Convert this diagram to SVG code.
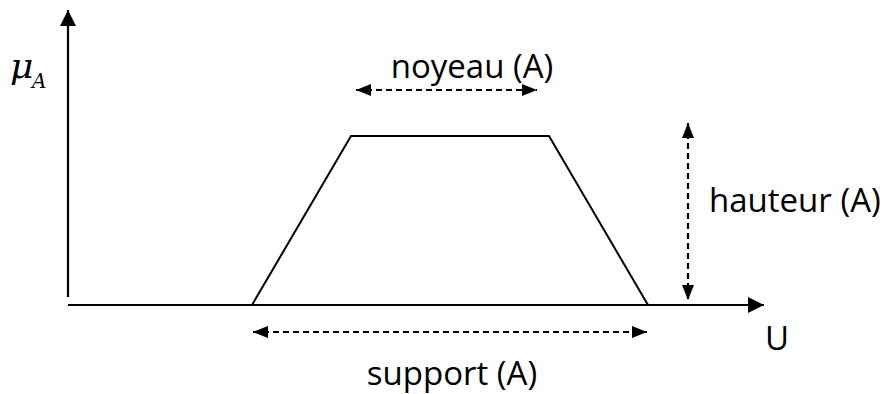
<svg xmlns="http://www.w3.org/2000/svg" width="885" height="394" viewBox="0 0 885 394">
  <style>
    .axis { stroke: #000; stroke-width: 2.2; fill: none; }
    .shape { stroke: #000; stroke-width: 2; fill: none; }
    .dim { stroke: #000; stroke-width: 2.2; fill: none; stroke-dasharray: 6 4; }
    .lbl { font-family: "Open Sans", "Liberation Sans", sans-serif; font-size: 33px; fill: #000; }
    .math { font-family: "DejaVu Serif", "Liberation Serif", serif; font-style: italic; fill: #000; }
  </style>
  <defs>
    <marker id="axtip" viewBox="0 0 10 10" refX="10" refY="5" markerWidth="16" markerHeight="16" markerUnits="userSpaceOnUse" orient="auto">
      <path d="M0,0 L10,5 L0,10 Z" fill="#000"/>
    </marker>
    <marker id="dimtip" viewBox="0 0 10 10" refX="10" refY="5" markerWidth="15" markerHeight="12" markerUnits="userSpaceOnUse" orient="auto-start-reverse" preserveAspectRatio="none">
      <path d="M0,0 L10,5 L0,10 Z" fill="#000"/>
    </marker>
  </defs>

  <!-- axes -->
  <g id="axes">
    <line class="axis" x1="68" y1="297" x2="68" y2="10" marker-end="url(#axtip)"/>
    <line class="axis" x1="68" y1="305" x2="764" y2="305" marker-end="url(#axtip)"/>
    <text class="math" x="10" y="78" font-size="36">μ</text>
    <text class="math" x="32" y="88" font-size="20">A</text>
    <text class="lbl" x="765" y="350">U</text>
  </g>

  <!-- trapezoidal membership function -->
  <g id="trapeze">
    <polyline class="shape" points="252,305 351,136 549,136 648,305"/>
  </g>

  <!-- dimension connectors -->
  <g id="connectors">
    <line class="dim" x1="356" y1="90" x2="537" y2="90" marker-start="url(#dimtip)" marker-end="url(#dimtip)"/>
    <line class="dim" x1="688" y1="123" x2="688" y2="300" marker-start="url(#dimtip)" marker-end="url(#dimtip)"/>
    <line class="dim" x1="253" y1="332" x2="647" y2="332" marker-start="url(#dimtip)" marker-end="url(#dimtip)"/>
  </g>

  <g id="noyau">
    <text class="lbl" x="472" y="78" text-anchor="middle">noyeau (A)</text>
  </g>
  <g id="hauteur">
    <text class="lbl" x="709" y="212">hauteur (A)</text>
  </g>
  <g id="support">
    <text class="lbl" x="452" y="385" text-anchor="middle">support (A)</text>
  </g>
</svg>
